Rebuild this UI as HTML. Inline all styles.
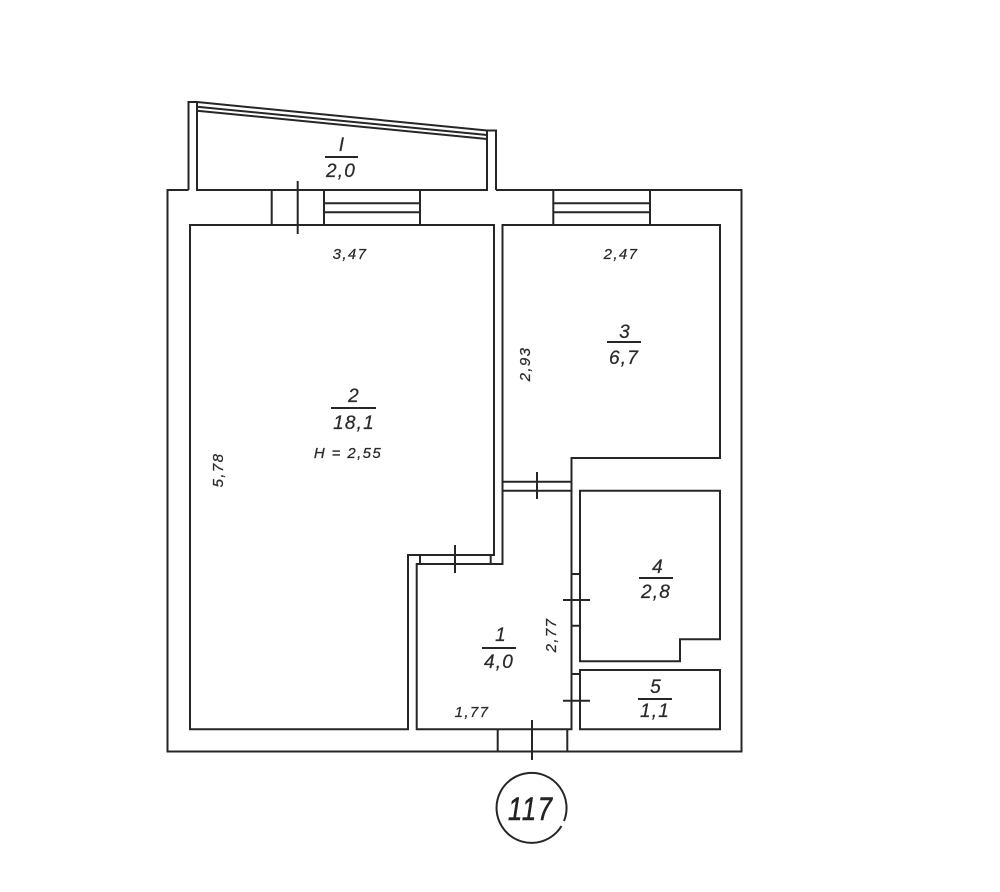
<!DOCTYPE html>
<html><head><meta charset="utf-8"><style>
html,body{margin:0;padding:0;background:#fff;width:1000px;height:892px;overflow:hidden}
svg{display:block}
text{font-family:"Liberation Sans",sans-serif;font-style:italic;fill:#2a2a2a;stroke:#2a2a2a;stroke-width:.25;text-anchor:middle}
.f{font-size:19px;letter-spacing:1.2px}
.d{font-size:15px;letter-spacing:1.4px}
</style></head><body>
<svg width="1000" height="892" viewBox="0 0 1000 892" xmlns="http://www.w3.org/2000/svg">
<g fill="none" stroke="#262626" stroke-width="2">
<!-- outer -->
<path d="M188.500 190H167.500V751.500H741.500V190H496M188.500 190V102H197L487 130.500H496V190"/>
<path d="M197 102.500V190H487V130.500"/>
<path d="M197 106.700L487 135M197 110.700L487 139"/>
<path d="M271.700 190V225M324 190V225M420 190V225M324 203.300H420M324 212.300H420M297.700 181V234"/>
<path d="M553.300 190V225M650 190V225M553.300 203.300H650M553.300 212.300H650"/>
<!-- room 2 -->
<path d="M408 729.300H190V225H494V555H408Z"/>
<!-- room 1 and hall -->
<path d="M502.500 225H720V458H571.500V729.300H416.700V564H502.500Z"/>
<path d="M502.500 481.700H571.500M502.500 490.700H571.500M537 472V499"/>
<path d="M420 555V564M490.700 555V564M455 545V573"/>
<!-- room 4 -->
<path d="M580 490.700H720V639.300H680V661.300H580Z"/>
<!-- room 5 -->
<path d="M580 670H720V729.300H580Z"/>
<path d="M571.500 574H580M571.500 625.700H580M571.500 674H580M563 600H590M563 700.700H590"/>
<!-- entrance -->
<path d="M497.700 729.300V751.500M567.300 729.300V751.500M532 720V760"/>
<!-- fraction lines -->
<path d="M325 157H358M331 408H376M607 342H641M639 578H673M482 648H516M638 699H672"/>
<path d="M561.500 826A35 35 0 1 1 564 821"/>
</g>
<text class="f" x="342" y="151">I</text>
<text class="f" x="341" y="177">2,0</text>
<text class="f" x="354" y="402">2</text>
<text class="f" x="354" y="429">18,1</text>
<text class="d" x="348" y="458">H = 2,55</text>
<text class="d" x="350" y="259">3,47</text>
<text class="d" x="621" y="259">2,47</text>
<text class="f" x="625" y="338">3</text>
<text class="f" x="624" y="364">6,7</text>
<text class="f" x="658" y="573">4</text>
<text class="f" x="656" y="598">2,8</text>
<text class="f" x="501" y="641">1</text>
<text class="f" x="499" y="668">4,0</text>
<text class="f" x="656" y="693">5</text>
<text class="f" x="655" y="717">1,1</text>
<text class="d" x="472" y="717">1,77</text>
<text class="d" transform="translate(223,470) rotate(-90)">5,78</text>
<text class="d" transform="translate(530,364) rotate(-90)">2,93</text>
<text class="d" transform="translate(556,635) rotate(-90)">2,77</text>
<text transform="translate(508,820) scale(.8,1)" style="font-size:32px;letter-spacing:2px;text-anchor:start;fill:#222;stroke:#222;stroke-width:.6">117</text>
</svg>
</body></html>
